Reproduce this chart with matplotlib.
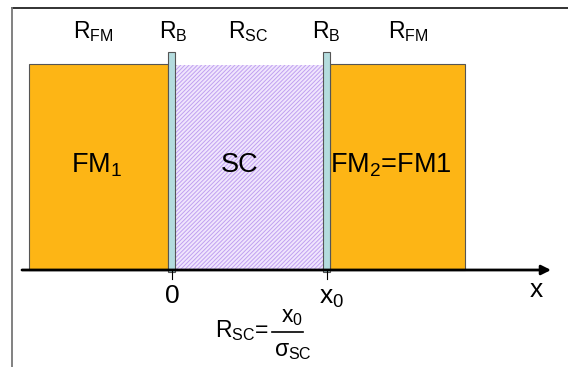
import matplotlib

matplotlib.use("Agg")
import matplotlib.pyplot as plt
from matplotlib.patches import Rectangle

plt.rcParams["font.family"] = ["Liberation Sans", "DejaVu Sans"]
plt.rcParams["mathtext.fontset"] = "custom"
plt.rcParams["mathtext.rm"] = "Liberation Sans"
plt.rcParams["mathtext.it"] = "Liberation Sans"
plt.rcParams["hatch.linewidth"] = 0.7

# ── Layer layout (pixel units of the sketch) ─────────────────────────
layer_names = ["FM1", "B1", "SC", "B2", "FM2"]
layer_left = [29, 168, 175, 323, 330]
layer_right = [168, 175, 323, 330, 465]
layer_top = [64, 52, 65, 52, 64]
axis_y = 270

top_labels = [r"R$_{\rm FM}$", r"R$_{\rm B}$", r"R$_{\rm SC}$", r"R$_{\rm B}$", r"R$_{\rm FM}$"]
top_label_x = [93, 173, 248, 326, 408]

body_labels = [r"FM$_1$", "SC", r"FM$_2$=FM1"]
body_label_x = [97, 240, 391]

tick_x = [172, 327]
tick_labels = ["0", r"x$_0$"]

fig = plt.figure(figsize=(5.68, 3.67), dpi=100)
ax = fig.add_axes([0, 0, 1, 1])
ax.set_xlim(0, 568)
ax.set_ylim(367, 0)
ax.axis("off")

# frame lines
ax.plot([12, 568], [8, 8], color="#222222", lw=1.3)
ax.plot([12, 12], [8, 367], color="#777777", lw=1.3)

orange = "#FDB515"
for name, x0, x1, top in zip(layer_names, layer_left, layer_right, layer_top):
    if name.startswith("FM"):
        patch = Rectangle((x0, top), x1 - x0, axis_y - top, facecolor=orange,
                          edgecolor="#555555", lw=0.8, zorder=2)
    elif name.startswith("B"):
        patch = Rectangle((x0, top), x1 - x0, axis_y - top + 2, facecolor="#B4DCDE",
                          edgecolor="#555555", lw=0.8, zorder=3)
    else:
        patch = Rectangle((x0, top), x1 - x0, axis_y - top, facecolor="#F0E6FD",
                          edgecolor="#C0A0F0", hatch="////////", lw=0, zorder=2)
    ax.add_patch(patch)

# x axis with arrow
ax.annotate("", xy=(551, axis_y), xytext=(22, axis_y),
            arrowprops=dict(arrowstyle="-|>", color="black", lw=2,
                            mutation_scale=14, shrinkA=0, shrinkB=0),
            zorder=4)
for tx in tick_x:
    ax.plot([tx, tx], [axis_y, axis_y + 9], color="black", lw=0.8, zorder=4)

ax.text(tick_x[0], 296, tick_labels[0], fontsize=19, ha="center", va="center")
ax.text(tick_x[1] + 5, 298, tick_labels[1], fontsize=19, ha="center", va="center")
ax.text(536, 290, "x", fontsize=19, ha="center", va="center")

for lbl, lx in zip(top_labels, top_label_x):
    ax.text(lx, 32, lbl, fontsize=16.5, ha="center", va="center")

for lbl, lx in zip(body_labels, body_label_x):
    ax.text(lx, 165, lbl, fontsize=19.5, ha="center", va="center", zorder=5)

# R_SC = x0 / sigma_SC
ax.text(242, 331, r"R$_{\rm SC}$=", fontsize=16.5, ha="center", va="center")
ax.text(292, 317, r"x$_0$", fontsize=16.5, ha="center", va="center")
ax.plot([272, 303], [332, 332], color="black", lw=1.2)
ax.text(293, 351, r"$\sigma_{\rm SC}$", fontsize=16.5, ha="center", va="center")

fig.savefig("out.png", dpi=100)
